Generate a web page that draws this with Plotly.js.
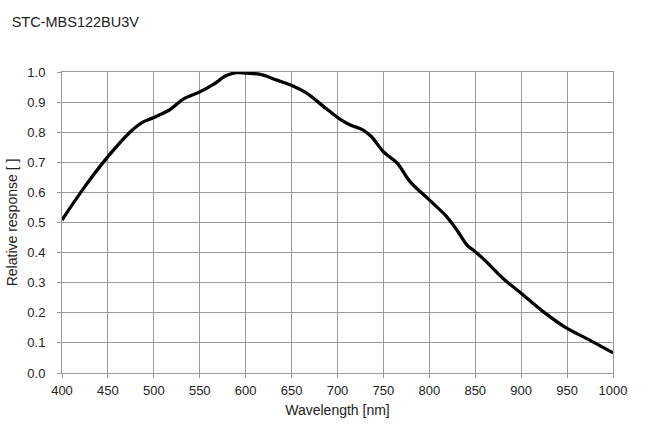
<!DOCTYPE html>
<html>
<head>
<meta charset="utf-8">
<script src="https://cdn.plot.ly/plotly-3.0.1.min.js"></script>
<style>html,body{margin:0;padding:0;background:#fff;}#chart{width:647px;height:429px;}</style>
</head>
<body>
<div id="chart"></div>
<script>
const wavelength = [400, 425, 450, 474, 487, 500, 518, 532, 550, 564, 579, 590, 601, 616, 634, 652, 666, 685, 703, 714, 728, 737, 750, 765, 779, 800, 819, 830, 841, 850, 862, 880, 900, 924, 950, 971, 1000];
const response = [0.508, 0.62, 0.719, 0.80, 0.832, 0.849, 0.876, 0.910, 0.934, 0.957, 0.988, 0.998, 0.996, 0.992, 0.973, 0.953, 0.931, 0.885, 0.843, 0.824, 0.807, 0.785, 0.735, 0.697, 0.636, 0.575, 0.519, 0.475, 0.425, 0.403, 0.37, 0.315, 0.265, 0.204, 0.148, 0.115, 0.067];
const xTicks = [400, 450, 500, 550, 600, 650, 700, 750, 800, 850, 900, 950, 1000];
const yTicks = [0.0, 0.1, 0.2, 0.3, 0.4, 0.5, 0.6, 0.7, 0.8, 0.9, 1.0];

const fam = 'Liberation Sans, Arial, sans-serif';
const tickFont = {family: fam, size: 13, color: '#222'};
const titleFont = {family: fam, size: 14, color: '#222'};
const trace = {
  x: wavelength, y: response, type: 'scatter', mode: 'lines',
  line: {color: '#000', width: 3.3, shape: 'spline', smoothing: 1},
  hoverinfo: 'skip'
};
const layout = {
  width: 647, height: 429,
  margin: {l: 62, r: 34, t: 72, b: 56},
  paper_bgcolor: '#fff', plot_bgcolor: '#fff',
  font: tickFont,
  showlegend: false,
  title: {text: 'STC-MBS122BU3V', x: 0.018, xanchor: 'left', y: 0.95, yanchor: 'middle', font: {family: fam, size: 14.5, color: '#222'}},
  xaxis: {
    range: [400, 1000], tickvals: xTicks, ticktext: xTicks.map(String),
    showgrid: true, gridcolor: '#9a9a9a', gridwidth: 1,
    showline: true, linecolor: '#9a9a9a', mirror: true,
    ticks: 'outside', ticklen: 4, tickcolor: '#9a9a9a',
    zeroline: false, tickfont: tickFont, ticklabelstandoff: 1,
    title: {text: 'Wavelength [nm]', font: titleFont, standoff: 8}
  },
  yaxis: {
    range: [0, 1], tickvals: yTicks, ticktext: yTicks.map(v => v.toFixed(1)),
    showgrid: true, gridcolor: '#9a9a9a', gridwidth: 1,
    showline: true, linecolor: '#9a9a9a', mirror: true,
    ticks: 'outside', ticklen: 4, tickcolor: '#9a9a9a',
    zeroline: false, tickfont: tickFont, ticklabelstandoff: 9,
    title: {text: 'Relative response [ ]', font: titleFont, standoff: 6}
  }
};
Plotly.newPlot('chart', [trace], layout, {staticPlot: true, displayModeBar: false});
</script>
</body>
</html>
